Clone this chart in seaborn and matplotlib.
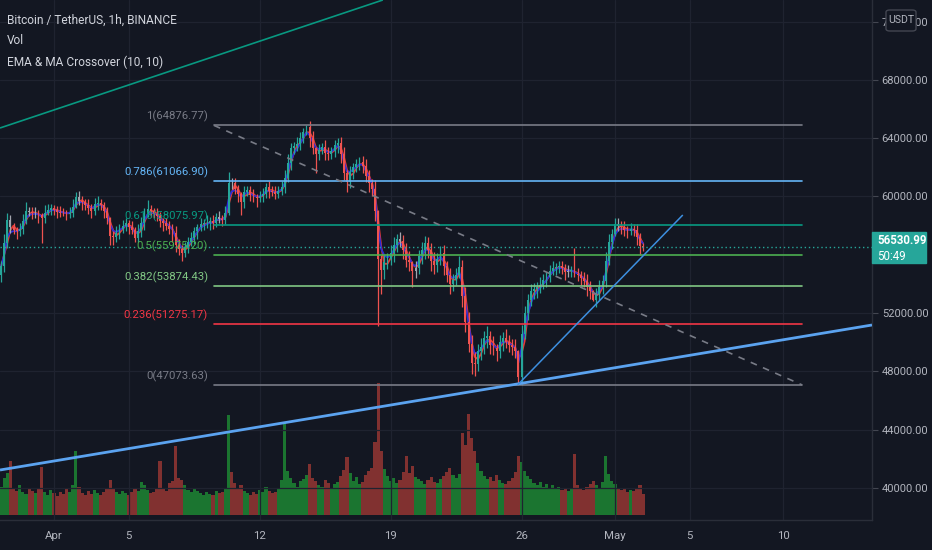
import matplotlib
matplotlib.use('Agg')
import matplotlib.pyplot as plt
import matplotlib.dates as mdates
from matplotlib.patches import Rectangle, FancyBboxPatch
import numpy as np
import pandas as pd
import seaborn as sns

# BTC/USDT, resampled to 4h candles
start_time = '2021-03-29 04:00'
first_open = 54600
closes = [55200, 56800, 58400, 57900, 57700, 57600, 57800, 58300, 59000, 58950,
          58850, 58850, 58700, 58500, 58900, 59100, 59200, 59050, 58950, 58900,
          58850, 58800, 58900, 59300, 59950, 59700, 59600, 59400, 59200, 59000,
          59500, 59550, 59400, 59000, 58500, 57300, 57200, 57500, 57800, 58000,
          58200, 57900, 57700, 57150, 57600, 58200, 58900, 59150, 59000, 58800,
          58650, 58300, 58150, 58000, 57800, 57500, 56700, 56400, 56150, 56500,
          56900, 57150, 57600, 57900, 58100, 58150, 58200, 58300, 58200, 58600,
          58450, 58400, 58850, 60950, 60900, 60500, 60200, 59600, 60300, 60450,
          60100, 59950, 59900, 60050, 60200, 60650, 60400, 60300, 60200, 60400,
          60650, 61300, 62300, 63300, 63450, 63600, 64000, 64400, 64800, 64000,
          63300, 62900, 63200, 63400, 63000, 62900, 63100, 63500, 63700, 62900,
          61600, 61000, 61700, 62000, 62200, 62400, 62100, 61400, 60900, 60500,
          59000, 55700, 54950, 55500, 55700, 56100, 56700, 57050, 56950, 56300,
          55650, 55500, 54900, 55100, 55900, 56300, 56800, 56300, 55600, 55300,
          55700, 56100, 55200, 54600, 54000, 54300, 54600, 55150, 53200, 51400,
          49900, 48600, 48500, 49400, 49700, 50300, 50400, 49800, 49600, 49400,
          50000, 50300, 50000, 49800, 49700, 49400, 47600, 50600, 52000, 52900,
          53500, 53650, 53800, 53950, 54300, 54500, 54900, 55100, 55150, 55200,
          55100, 54800, 54900, 54950, 54700, 54600, 54400, 54200, 53800, 53500,
          52900, 53300, 53800, 54200, 55600, 56900, 57400, 58100, 58000, 57900,
          57700, 57650, 57800, 57700, 57200, 56600, 56530.99]
# upper / lower wick length of each candle, in hundreds of USDT
wick_up = [4, 6, 5, 3, 3, 2, 4, 5, 6, 3, 3, 4, 2, 3, 5, 4, 3, 2, 3, 4,
           3, 2, 4, 5, 3, 4, 3, 2, 4, 3, 4, 5, 3, 2, 3, 4, 3, 5, 3, 4,
           3, 2, 4, 3, 5, 4, 3, 6, 3, 2, 4, 3, 2, 4, 3, 3, 5, 4, 3, 4,
           3, 4, 3, 2, 4, 3, 5, 3, 4, 3, 4, 3, 5, 7, 3, 4, 3, 5, 4, 3,
           3, 4, 2, 3, 4, 3, 4, 3, 4, 3, 4, 5, 6, 4, 3, 5, 4, 3, 1, 4,
           5, 3, 4, 3, 5, 4, 3, 4, 3, 4, 5, 6, 4, 3, 4, 3, 4, 5, 4, 3,
           6, 9, 12, 5, 4, 6, 5, 4, 5, 4, 5, 6, 7, 5, 4, 6, 5, 4, 5, 6,
           4, 5, 6, 4, 5, 4, 5, 7, 5, 6, 7, 6, 8, 5, 6, 5, 7, 4, 6, 5,
           5, 4, 6, 5, 4, 5, 19, 6, 5, 4, 5, 4, 3, 5, 4, 3, 4, 5, 3, 4,
           4, 3, 4, 3, 18, 4, 3, 4, 5, 4, 6, 4, 5, 4, 6, 5, 4, 4, 4, 3,
           4, 3, 4, 3, 4, 3, 2]
wick_dn = [5, 4, 3, 4, 3, 5, 3, 4, 2, 3, 4, 3, 5, 7, 3, 2, 4, 3, 4, 3,
           2, 4, 3, 3, 4, 3, 5, 3, 4, 5, 3, 4, 3, 5, 4, 6, 5, 3, 4, 3,
           4, 5, 3, 6, 3, 4, 5, 3, 4, 3, 3, 4, 5, 3, 4, 6, 5, 4, 6, 3,
           4, 3, 4, 5, 3, 4, 3, 5, 4, 3, 3, 4, 3, 5, 4, 3, 6, 9, 4, 3,
           4, 3, 6, 3, 4, 3, 5, 3, 4, 3, 3, 4, 3, 5, 4, 3, 4, 3, 5, 6,
           4, 7, 4, 3, 5, 4, 3, 4, 5, 6, 5, 7, 4, 5, 3, 4, 5, 4, 6, 5,
           7, 9, 10, 6, 5, 4, 6, 5, 4, 6, 5, 6, 9, 5, 4, 5, 6, 5, 7, 6,
           5, 4, 6, 5, 7, 5, 4, 6, 8, 7, 6, 8, 7, 5, 6, 5, 7, 6, 5, 7,
           5, 6, 4, 5, 6, 5, 6, 5, 4, 5, 4, 5, 6, 4, 3, 5, 4, 3, 5, 4,
           4, 5, 3, 4, 5, 4, 5, 4, 6, 5, 6, 5, 4, 5, 4, 3, 5, 4, 4, 5,
           4, 5, 3, 4, 5, 6, 3]
# candles with long wicks read directly: index -> (high, low)
wicks = {13: (58900, 56800), 24: (60300, 59200), 35: (58600, 56700),
         43: (57900, 56900), 58: (56700, 55600), 73: (61700, 58700),
         77: (60300, 58700), 98: (64880, 64200), 101: (63400, 61600),
         111: (61800, 60300), 121: (59100, 51100), 122: (56000, 53300),
         132: (55600, 53800), 147: (55900, 54400), 152: (49300, 47700),
         159: (49900, 48700), 166: (49500, 47074), 184: (56500, 54500),
         190: (53600, 52800), 197: (58500, 57300)}
volumes = [2800, 3600, 4100, 5300, 2700, 2400, 2900, 2300, 2100, 2600,
           2400, 2200, 2700, 4700, 2300, 2000, 2500, 2200, 1900, 2300,
           2100, 2600, 2300, 2900, 6200, 2800, 2200, 2000, 2400, 2100,
           2500, 2200, 2000, 2300, 2700, 3400, 2600, 2300, 2100, 2400,
           2200, 2000, 2300, 2600, 2400, 3200, 2900, 2500, 2200, 2300,
           2600, 5300, 2700, 2400, 3100, 3300, 6700, 3600, 3400, 2900,
           2500, 2300, 2700, 2400, 2200, 2000, 2300, 2100, 2000, 2400,
           2200, 2300, 2700, 9700, 4200, 3100, 2600, 2900, 2400, 2200,
           2000, 2300, 2100, 2500, 2300, 2800, 2400, 2200, 2300, 2600,
           3400, 9000, 4300, 3600, 3100, 2800, 3300, 3500, 3900, 5000,
           3600, 3300, 2900, 2800, 3400, 3100, 2700, 3000, 3200, 3800,
           4400, 5700, 4100, 3300, 3700, 3000, 3200, 3900, 4300, 4600,
           7100, 12800, 6200, 4500, 3800, 3300, 3600, 3100, 3400, 4200,
           5800, 4100, 4800, 3700, 3500, 3300, 3000, 3400, 3700, 3200,
           3100, 3500, 3800, 4200, 4600, 3900, 3600, 4000, 8000, 6800,
           9800, 7500, 6200, 5100, 4300, 3800, 3500, 3700, 3300, 3900,
           3400, 3100, 3000, 3300, 3600, 4200, 5800, 5200, 4300, 3800,
           3500, 3100, 2900, 3200, 2800, 3000, 2700, 2900, 2600, 2800,
           2500, 2700, 2400, 2600, 6000, 2900, 2700, 2500, 2800, 3000,
           3300, 2900, 2700, 3200, 5800, 4000, 3300, 3000, 2700, 2500,
           2600, 2300, 2500, 2400, 2700, 2900, 2100]

# drawings
fib_start = '2021-04-09 13:20'
fib_end = '2021-05-11 00:00'
fib_high = 64876.77
fib_low = 47073.63
fib_levels = [1, 0.786, 0.618, 0.5, 0.382, 0.236, 0]
fib_names = ['1', '0.786', '0.618', '0.5', '0.382', '0.236', '0']
fib_colors = ['#787b86', '#64b5f6', '#089981', '#4caf50', '#81c784', '#f23645', '#787b86']

long_trend = [('2021-03-29 02:40', 41235), ('2021-05-14 17:50', 51183)]
short_trend = [('2021-04-25 19:00', 47074), ('2021-05-04 15:00', 58731)]
green_trend = [('2021-03-29 02:40', 64700), ('2021-04-18 14:00', 73482)]

last_price = 56530.99
countdown = '50:49'

tick_dates = ['2021-04-01', '2021-04-05', '2021-04-12', '2021-04-19',
              '2021-04-26', '2021-05-01', '2021-05-05', '2021-05-10']
tick_names = ['Apr', '5', '12', '19', '26', 'May', '5', '10']
price_ticks = [40000, 44000, 48000, 52000, 60000, 64000, 68000, 72000]

bg = '#131722'
txt = '#b2b5be'

sns.set_theme(style='dark', rc={'axes.facecolor': bg, 'figure.facecolor': bg})
plt.rcParams['font.family'] = ['Roboto', 'DejaVu Sans']

df = pd.DataFrame({'time': pd.date_range(start_time, periods=len(closes), freq='4h'),
                   'close': closes, 'volume': volumes})
df['open'] = [first_open] + closes[:-1]
df['high'] = df[['open', 'close']].max(axis=1) + np.array(wick_up) * 100
df['low'] = df[['open', 'close']].min(axis=1) - np.array(wick_dn) * 100
for i, (h, l) in wicks.items():
    df.loc[i, 'high'] = h
    df.loc[i, 'low'] = l
df['ma'] = df['close'].rolling(3, min_periods=1).mean()
df['ema'] = df['close'].ewm(span=3, adjust=False).mean()
x = mdates.date2num(df['time'])
up = df['close'] >= df['open']

candle_col = []
for c, u, m in zip(df['close'], up, df['ma']):
    if u and c >= m:
        candle_col.append('#26a69a')
    elif (not u) and c < m:
        candle_col.append('#ef5350')
    else:
        candle_col.append('#a3a6af')

fig = plt.figure(figsize=(9.32, 5.5), dpi=100)
rect = [0, 30 / 550, 872 / 932, 520 / 550]
axv = fig.add_axes(rect)
ax = fig.add_axes(rect, sharex=axv)
ax.patch.set_alpha(0)

# volume pane
vol_col = np.where(up, '#1f9e36', '#b13d36')
axv.bar(x, df['volume'], width=4 / 24, color=vol_col, alpha=0.7, linewidth=0)
axv.set_ylim(-450, 50000)
axv.set_yticks([])
axv.tick_params(axis='x', labelbottom=False, length=0)
for s in axv.spines.values():
    s.set_visible(False)

# price pane
body_lo = df[['open', 'close']].min(axis=1)
body_h = (df['close'] - df['open']).abs().clip(lower=40)
ax.vlines(x, df['low'], df['high'], colors=candle_col, lw=0.9, zorder=3)
ax.bar(x, body_h, bottom=body_lo, width=4 / 24 * 0.6, color=candle_col, linewidth=0, zorder=3)
sns.lineplot(x=x, y=df['ma'].values, ax=ax, color='#e53935', lw=1.3, zorder=2)
sns.lineplot(x=x, y=df['ema'].values, ax=ax, color='#2b2bd6', lw=1.3, zorder=2)

# fib retracement
fs, fe = mdates.date2num(pd.to_datetime([fib_start, fib_end]))
for lvl, name, col in zip(fib_levels, fib_names, fib_colors):
    p = fib_low + lvl * (fib_high - fib_low)
    ax.plot([fs, fe], [p, p], color=col, lw=1.2, zorder=4)
    ax.annotate(f'{name}({p:.2f})', (fs, p), xytext=(-6, 3), textcoords='offset pixels',
                ha='right', va='bottom', color=col, fontsize=8.2, zorder=5)
ax.plot([fs, fe], [fib_high, fib_low], color='#787b86', lw=1.2, ls=(0, (4, 4)), zorder=4)

# trend lines
for pts, col, lw in [(long_trend, '#5ba3f0', 2.0), (short_trend, '#3d8fe0', 1.1),
                     (green_trend, '#089981', 1.2)]:
    xs = mdates.date2num(pd.to_datetime([p[0] for p in pts]))
    ax.plot(xs, [p[1] for p in pts], color=col, lw=lw, zorder=4, solid_capstyle='butt')

ax.axhline(last_price, color='#26a69a', lw=1, ls=(0, (1, 2)), zorder=4)

ax.set_xlim(mdates.date2num(pd.Timestamp('2021-03-29 02:40')),
            mdates.date2num(pd.Timestamp('2021-05-14 17:50')))
ax.set_ylim(37804, 73482)
ax.set_xticks(mdates.date2num(pd.to_datetime(tick_dates)))
ax.set_xticklabels(tick_names)
ax.yaxis.tick_right()
ax.set_yticks(price_ticks)
ax.set_yticklabels([f'{p}.00' for p in price_ticks])
ax.tick_params(axis='y', colors=txt, labelsize=8, length=4, width=0.8, pad=3)
ax.tick_params(axis='y', which='both', color='#434651')
ax.tick_params(axis='x', colors=txt, labelsize=8.2, length=0, pad=8)
ax.grid(True, color='#1f2330', lw=0.9)
ax.set_axisbelow(True)
ax.set_xlabel('')
ax.set_ylabel('')
for k, s in ax.spines.items():
    if k in ('right', 'bottom'):
        s.set_color('#2a2e39')
        s.set_linewidth(1)
    else:
        s.set_visible(False)

# header
fig.text(7 / 932, 1 - 20 / 550, 'Bitcoin / TetherUS, 1h, BINANCE', color='#d1d4dc',
         fontsize=8.6, va='center')
fig.text(7 / 932, 1 - 41 / 550, 'Vol', color='#d1d4dc', fontsize=8.6, va='center')
fig.text(7 / 932, 1 - 62 / 550, 'EMA & MA Crossover (10, 10)', color='#d1d4dc',
         fontsize=8.6, va='center')

# last price tag and currency box
fig.patches.append(Rectangle((872 / 932, 1 - 263 / 550), 54 / 932, 31 / 550,
                             transform=fig.transFigure, color='#26a69a', zorder=10))
fig.text(877 / 932, 1 - 241 / 550, f'{last_price:.2f}', color='white', fontsize=8.3,
         va='center', zorder=11, fontweight='bold')
fig.text(877 / 932, 1 - 256 / 550, countdown, color='white', fontsize=8.3,
         va='center', zorder=11)
fig.patches.append(FancyBboxPatch((886 / 932, 1 - 31 / 550), 30 / 932, 21 / 550,
                                  boxstyle='round,pad=0,rounding_size=0.004',
                                  transform=fig.transFigure, facecolor=bg,
                                  edgecolor='#434651', lw=1, zorder=10))
fig.text(901 / 932, 1 - 20 / 550, 'USDT', color=txt, fontsize=7.6, ha='center',
         va='center', zorder=11)

fig.savefig('out.png', dpi=100, facecolor=bg)
